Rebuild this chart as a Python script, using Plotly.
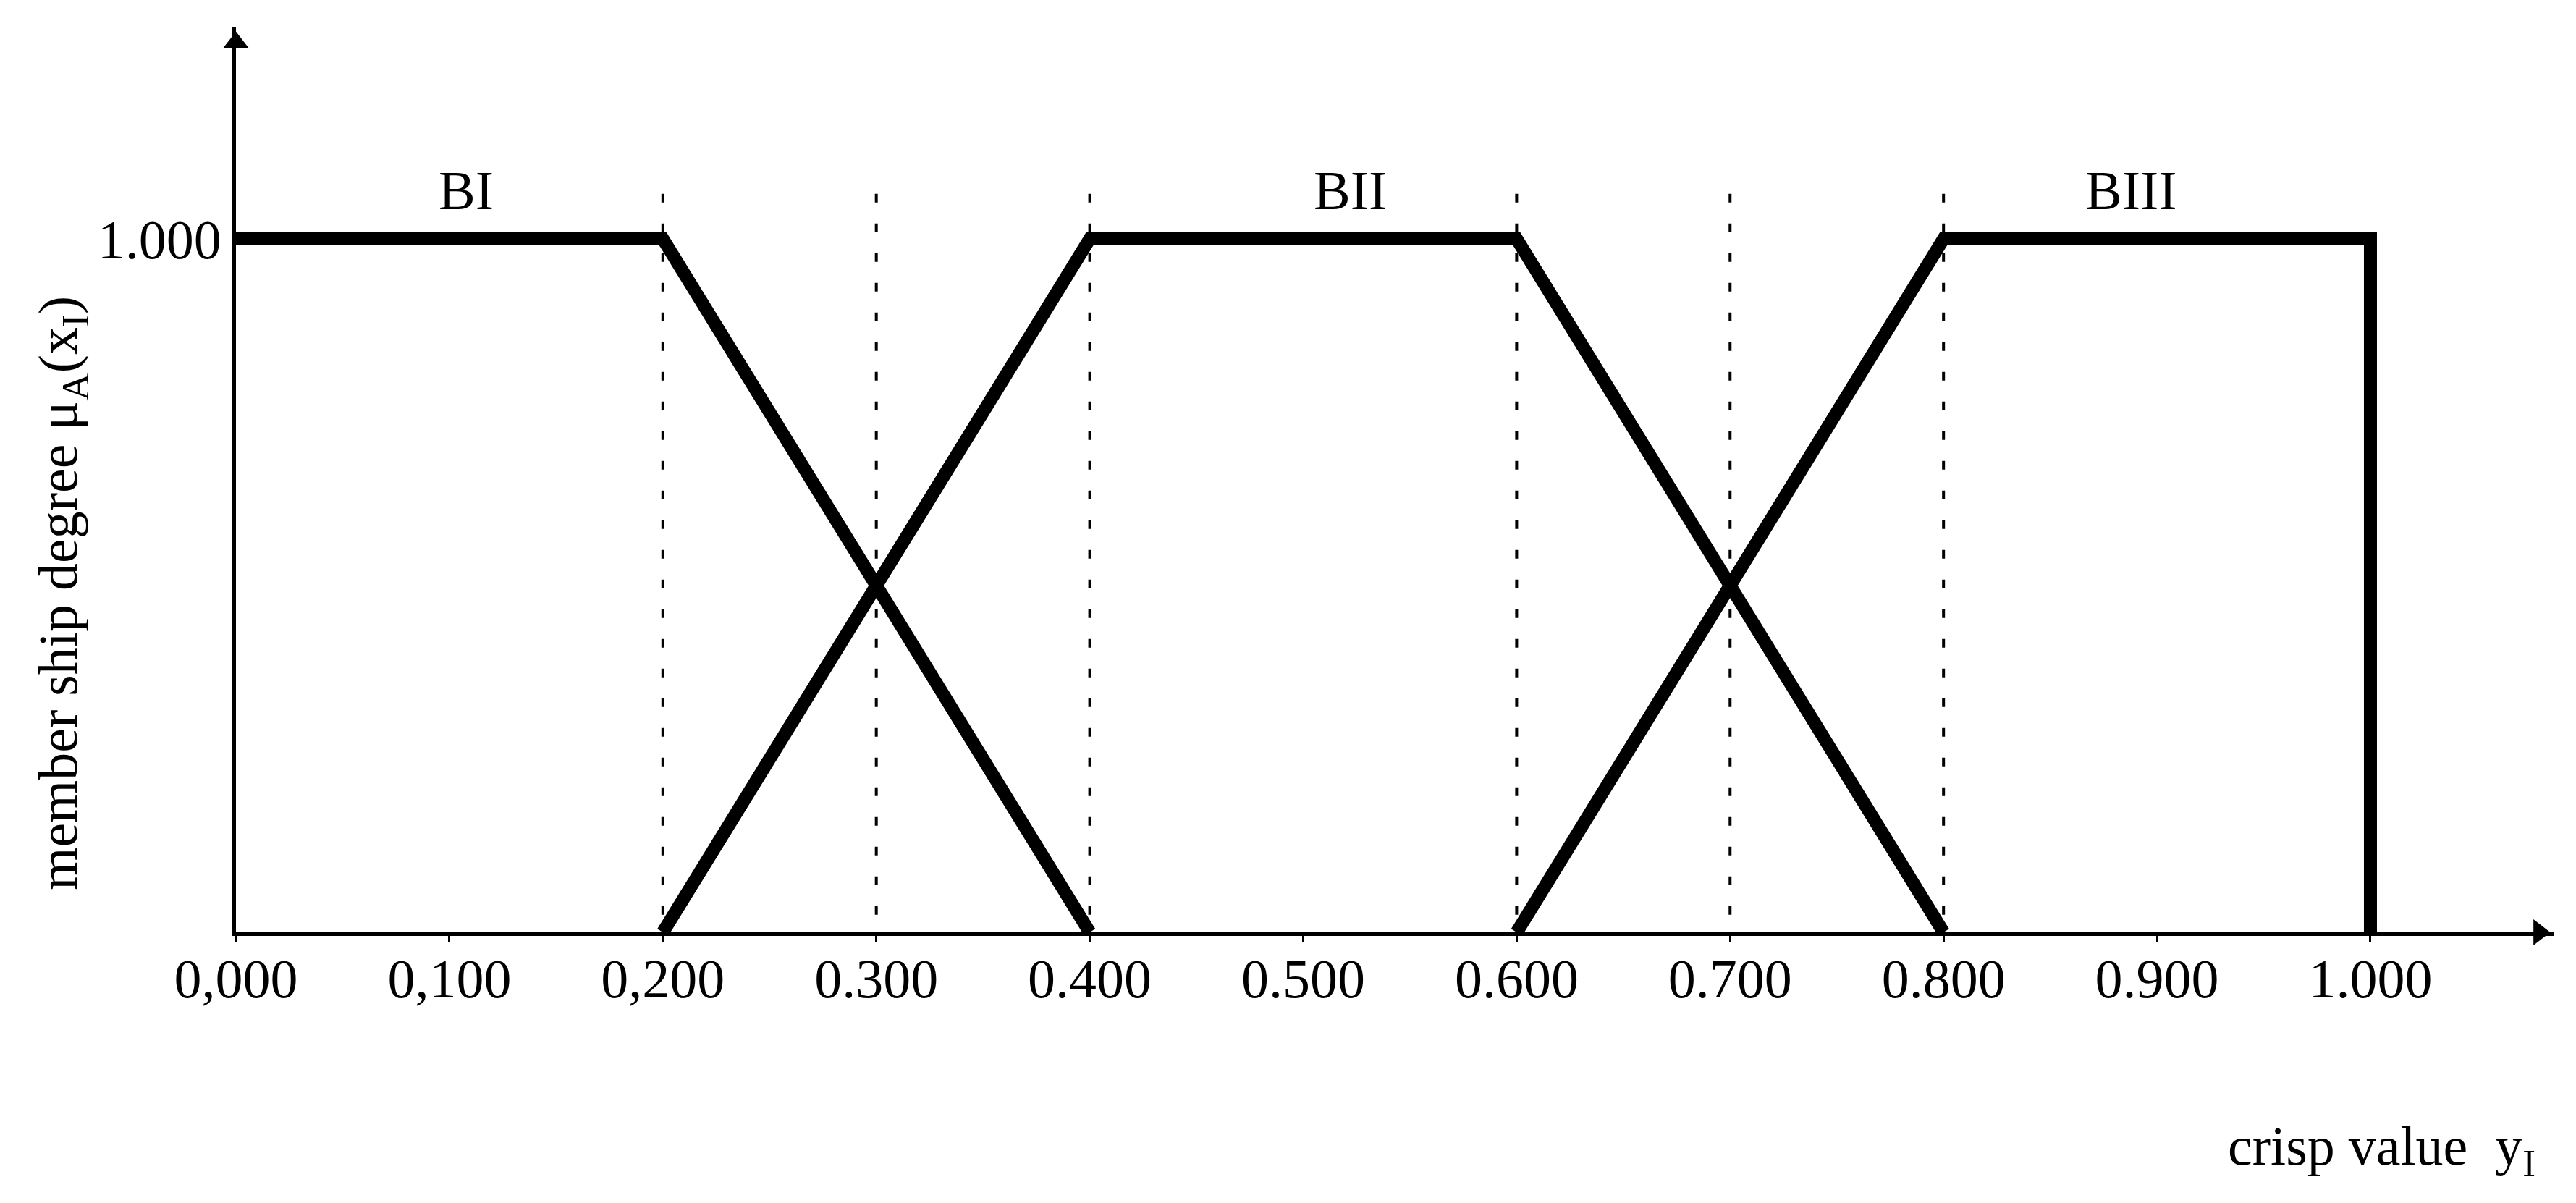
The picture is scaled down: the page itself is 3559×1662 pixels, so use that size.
import plotly.graph_objects as go

# ---- data ----
bi_x = [0.0, 0.2, 0.4]
bi_y = [1.0, 1.0, 0.0]
bii_x = [0.2, 0.4, 0.6, 0.8]
bii_y = [0.0, 1.0, 1.0, 0.0]
biii_x = [0.6, 0.8, 1.0, 1.0]
biii_y = [0.0, 1.0, 1.0, 0.0]

guide_x = [0.2, 0.3, 0.4, 0.6, 0.7, 0.8]
guide_y_top = 1.065
guide_y_bottom = 0.0

set_names = ["BI", "BII", "BIII"]
set_label_x = [0.108, 0.522, 0.888]
set_label_y = 1.07

x_tickvals = [0.0, 0.1, 0.2, 0.3, 0.4, 0.5, 0.6, 0.7, 0.8, 0.9, 1.0]
x_ticktext = ["0,000", "0,100", "0,200", "0.300", "0.400", "0.500",
              "0.600", "0.700", "0.800", "0.900", "1.000"]
y_tickvals = [1.0]
y_ticktext = ["1.000"]

x_max = 1.0858
y_max = 1.306
x_arrow = 1.079
y_arrow = 1.283

FONT = "Liberation Serif, Times New Roman, serif"
FS = 76

fig = go.Figure()

# dotted guide lines (drawn top to bottom so the dash pattern starts at the top)
for gx in guide_x:
    fig.add_trace(go.Scatter(
        x=[gx, gx], y=[guide_y_top, guide_y_bottom], mode="lines",
        line=dict(color="black", width=4, dash="12px,29px"),
        hoverinfo="skip", showlegend=False))

# membership functions
for xs, ys in [(bi_x, bi_y), (bii_x, bii_y), (biii_x, biii_y)]:
    fig.add_trace(go.Scatter(
        x=xs, y=ys, mode="lines",
        line=dict(color="black", width=18),
        hoverinfo="skip", showlegend=False))

# axis arrowheads
fig.add_trace(go.Scatter(
    x=[0.0], y=[y_arrow], mode="markers",
    marker=dict(symbol="triangle-up", size=31, color="black"),
    cliponaxis=False, hoverinfo="skip", showlegend=False))
fig.add_trace(go.Scatter(
    x=[x_arrow], y=[0.0], mode="markers",
    marker=dict(symbol="triangle-right", size=31, color="black"),
    cliponaxis=False, hoverinfo="skip", showlegend=False))

for name, lx in zip(set_names, set_label_x):
    fig.add_annotation(x=lx, y=set_label_y, xref="x", yref="y", text=name,
                       showarrow=False, xanchor="center", yanchor="middle",
                       font=dict(family=FONT, size=FS, color="black"))

fig.add_annotation(x=-0.075, y=0.375, xref="paper", yref="paper",
                   text="member ship degree μ<sub>A</sub>(x<sub>I</sub>)",
                   textangle=-90, showarrow=False,
                   xanchor="center", yanchor="middle",
                   font=dict(family=FONT, size=FS, color="black"))

fig.add_annotation(x=0.9928, y=-0.241, xref="paper", yref="paper",
                   text="crisp value&nbsp;&nbsp;y<sub>I</sub>",
                   showarrow=False, xanchor="right", yanchor="middle",
                   font=dict(family=FONT, size=FS, color="black"))

fig.update_layout(
    width=3559, height=1662,
    margin=dict(l=326, r=3559 - 3528, t=37, b=1662 - 1288, pad=0),
    paper_bgcolor="white", plot_bgcolor="white",
    xaxis=dict(range=[0, x_max], tickvals=x_tickvals, ticktext=x_ticktext,
               showgrid=False, zeroline=False, showline=True,
               linecolor="black", linewidth=5,
               ticks="outside", ticklen=8, tickwidth=3, tickcolor="black",
               ticklabelstandoff=-14,
               tickfont=dict(family=FONT, size=FS, color="black"),
               fixedrange=True),
    yaxis=dict(range=[0, y_max], tickvals=y_tickvals, ticktext=y_ticktext,
               showgrid=False, zeroline=False, showline=True,
               linecolor="black", linewidth=5, ticks="",
               tickfont=dict(family=FONT, size=FS, color="black"),
               fixedrange=True),
)

fig.write_html("out.html", config={"displayModeBar": False},
               post_script="document.body.style.margin='0';")
